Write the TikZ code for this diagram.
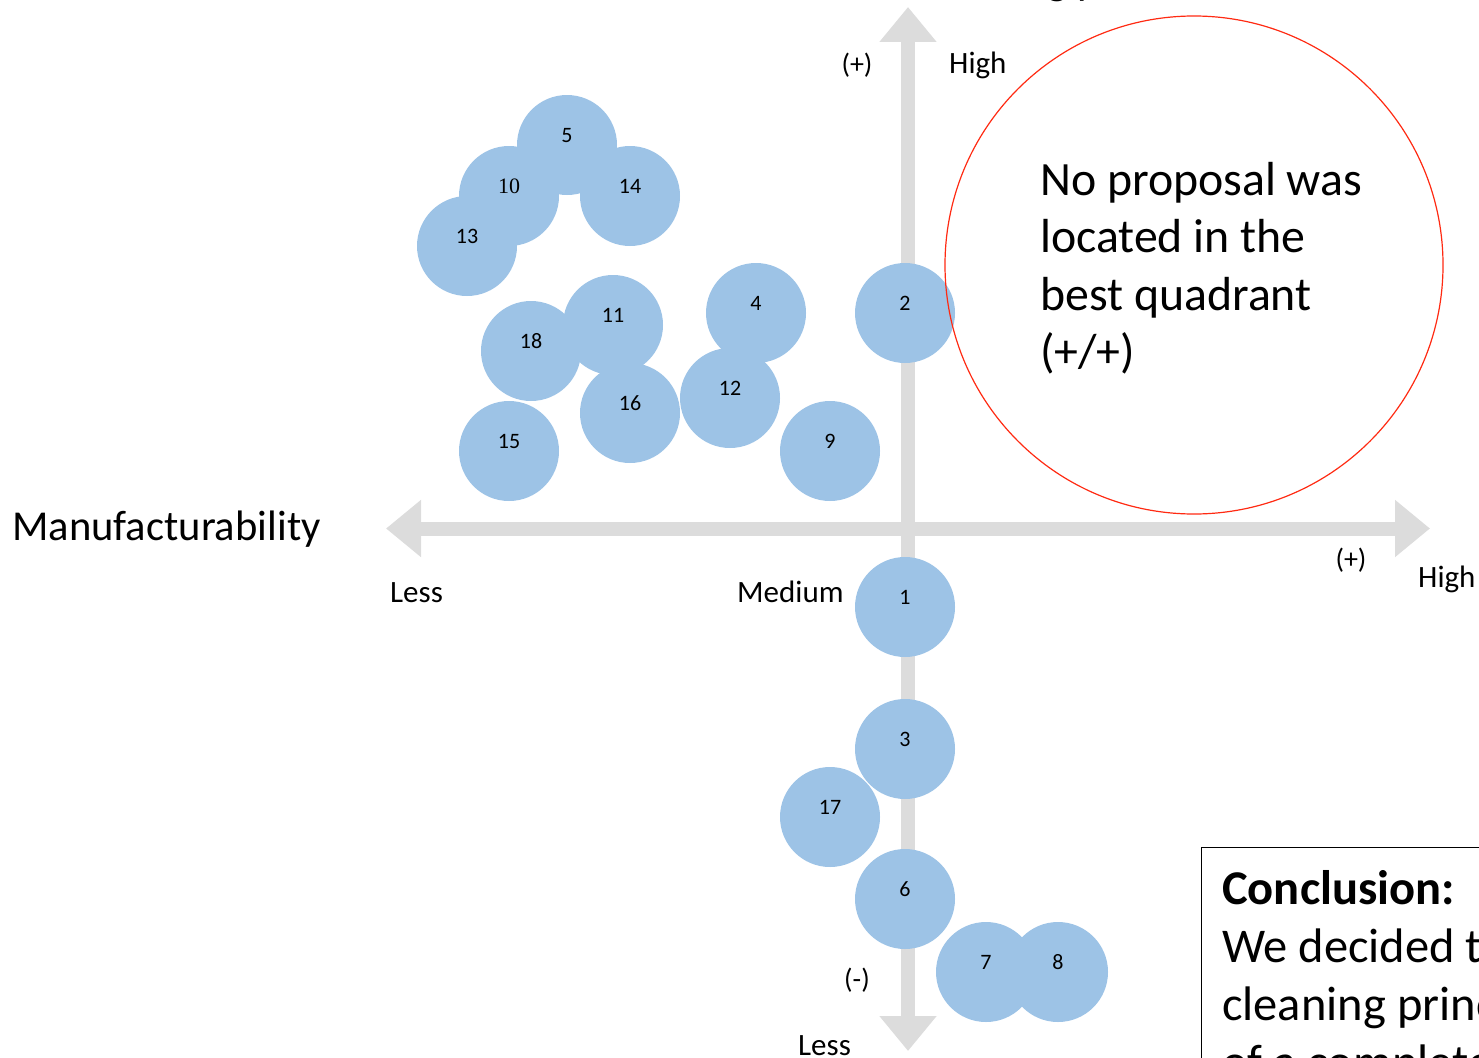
\documentclass[tikz,border=0pt]{standalone}
\usepackage{fontspec}
\setmainfont{Carlito}
\newfontfamily\serifnum{Liberation Serif}
\usetikzlibrary{arrows.meta}
\definecolor{axisgray}{HTML}{DCDCDC}
\definecolor{bubble}{HTML}{9DC3E6}
\definecolor{ringred}{HTML}{FF2A12}
\begin{document}
\begin{tikzpicture}[x=1pt,y=-1pt,
  bub/.style={circle,fill=bubble,draw=none,inner sep=0pt,minimum size=100pt,text height=10pt,text depth=16pt,font=\fontsize{22}{26}\selectfont},
  axisbar/.style={draw=axisgray,line width=14pt,{Triangle[width=55pt,length=35pt]}-{Triangle[width=55pt,length=35pt]}},
  lab/.style={inner sep=0pt,anchor=base west,font=\fontsize{31}{37}\selectfont},
  sgn/.style={inner sep=0pt,font=\fontsize{28}{34}\selectfont},
  title/.style={inner sep=0pt,anchor=base west,font=\fontsize{42.6}{50}\selectfont},
  big/.style={inner sep=0pt,anchor=base west,font=\fontsize{47.8}{57}\selectfont},
  ]
\useasboundingbox (0,0) rectangle (1479,1057);
% axes
\coordinate (xl) at (386,528.5);
\coordinate (xr) at (1430,528.5);
\coordinate (yt) at (908,7);
\coordinate (yb) at (908,1051);
\draw[axisbar] (xl) -- (xr);
\draw[axisbar] (yb) -- (yt);
% axis labels
\node[title] (ytitle) at (919,-5) {Cleaning performance};
\node[title] (xtitle) at (12,540) {Manufacturability};
\node[sgn] (plustop) at (857,65) {(+)};
\node[lab] (hightop) at (949,74) {High};
\node[lab] (lessleft) at (390,602) {Less};
\node[lab] (medium) at (737,602) {Medium};
\node[sgn] (plusright) at (1351,560) {(+)};
\node[lab] (highright) at (1418,587) {High};
\node[sgn] (minusbot) at (857,980) {(-)};
\node[lab] (lessbot) at (798,1055) {Less};
% bubbles
\node[bub] (b5) at (567,145) {5};
\node[bub] (b10) at (509,196) {\serifnum 10};
\node[bub] (b14) at (630,196) {14};
\node[bub] (b13) at (467,246) {13};
\node[bub] (b11) at (613,325) {11};
\node[bub] (b18) at (531,351) {18};
\node[bub] (b4) at (756,313) {4};
\node[bub] (b2) at (905,313) {2};
\node[bub] (b12) at (730,398) {12};
\node[bub] (b16) at (630,413) {16};
\node[bub] (b15) at (509,451) {15};
\node[bub] (b9) at (830,451) {9};
\node[bub] (b1) at (905,607) {1};
\node[bub] (b3) at (905,749) {3};
\node[bub] (b17) at (830,817) {17};
\node[bub] (b6) at (905,899) {6};
\node[bub] (b7) at (986,972) {7};
\node[bub] (b8) at (1058,972) {8};
% red ring
\node[circle,draw=ringred,line width=1.2pt,inner sep=0pt,minimum size=498pt] (ring) at (1194,265) {};
\node[big] (r1) at (1040,195) {No proposal was};
\node[big] (r2) at (1040,252.5) {located in the};
\node[big] (r3) at (1040,310) {best quadrant};
\node[big] (r4) at (1040,367.5) {(+/+)};
% conclusion box
\node[draw=black,line width=1.3pt,anchor=north west,inner sep=0pt,minimum width=320pt,minimum height=260pt] (concl) at (1201,847) {};
\node[big,font=\fontsize{48.5}{58}\selectfont\bfseries] (c1) at (1222,904) {Conclusion:};
\node[big,font=\fontsize{48.5}{58}\selectfont] (c2) at (1222,962) {We decided to};
\node[big,font=\fontsize{48.5}{58}\selectfont] (c3) at (1222,1020) {cleaning principle};
\node[big,font=\fontsize{48.5}{58}\selectfont] (c4) at (1222,1078) {of a complete};
\end{tikzpicture}
\end{document}
